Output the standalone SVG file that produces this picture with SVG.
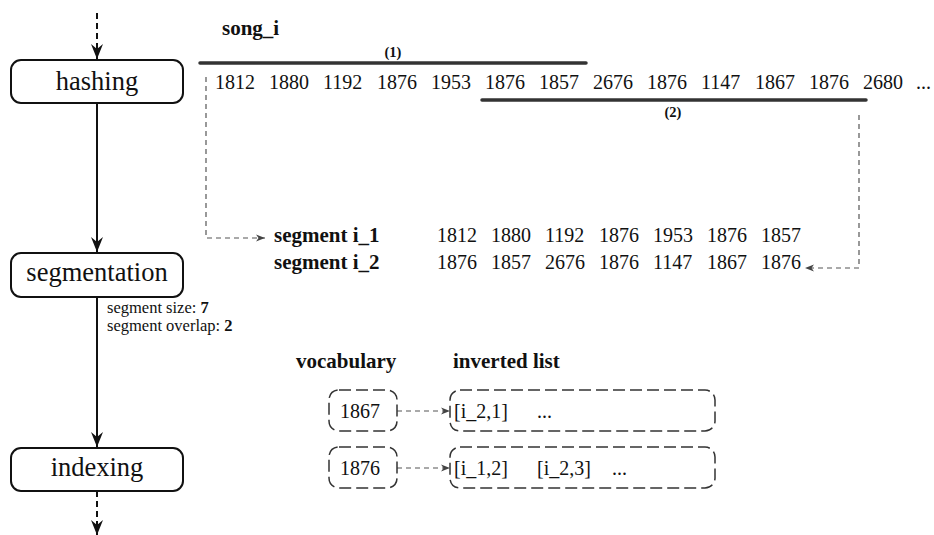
<svg xmlns="http://www.w3.org/2000/svg" width="934" height="535" viewBox="0 0 934 535">
<style>
text{font-family:"Liberation Serif","Times New Roman",serif;fill:#111}
.box{fill:#fff;stroke:#111;stroke-width:2}
.lbl{font-size:26.5px}
.num{font-size:20px}
.b{font-weight:bold;font-size:21px}
.small{font-size:16.5px}
.flow{stroke:#111;stroke-width:2;fill:none}
.dflow{stroke:#111;stroke-width:2;fill:none;stroke-dasharray:6,4}
.conn{stroke:#555;stroke-width:1.2;fill:none;stroke-dasharray:5,4}
.bar{stroke:#333;stroke-width:3.5;stroke-linecap:round}
.dbox{fill:#fff;stroke:#333;stroke-width:1.5;stroke-dasharray:12,5}
</style>
<defs>
<marker id="ah" markerUnits="userSpaceOnUse" markerWidth="16" markerHeight="14" viewBox="-15 -7 16 14" refX="0" refY="0" orient="auto">
<path d="M0,0 L-15,-6 L-10,0 L-15,6 Z" fill="#111"/>
</marker>
<marker id="sa" markerUnits="userSpaceOnUse" markerWidth="11" markerHeight="8" viewBox="-10 -4 11 8" refX="0" refY="0" orient="auto">
<path d="M0,0 L-9,-3.5 L-6.5,0 L-9,3.5 Z" fill="#444"/>
</marker>
</defs>

<g id="connectors">
<line class="dflow" x1="97" y1="13" x2="97" y2="59" marker-end="url(#ah)"/>
<line class="flow" x1="97" y1="103" x2="97" y2="252" marker-end="url(#ah)"/>
<line class="flow" x1="97" y1="297" x2="97" y2="447" marker-end="url(#ah)"/>
<line class="dflow" x1="97" y1="491" x2="97" y2="535" marker-end="url(#ah)"/>
<path class="conn" d="M206,77 V238 H265" marker-end="url(#sa)"/>
<path class="conn" d="M859,115 V268 H805" marker-end="url(#sa)"/>
<line class="conn" x1="397" y1="411" x2="450" y2="411" marker-end="url(#sa)"/>
<line class="conn" x1="397" y1="468" x2="450" y2="468" marker-end="url(#sa)"/>
</g>

<g id="hashing">
<rect class="box" x="11" y="60" width="172" height="43" rx="10"/>
<text class="lbl" x="97" y="90" text-anchor="middle">hashing</text>
</g>
<g id="segmentation">
<rect class="box" x="11" y="253" width="172" height="44" rx="10"/>
<text class="lbl" x="97" y="281" text-anchor="middle">segmentation</text>
<text class="small" x="107" y="313">segment size: <tspan font-weight="bold">7</tspan></text>
<text class="small" x="107" y="331">segment overlap: <tspan font-weight="bold">2</tspan></text>
</g>
<g id="indexing">
<rect class="box" x="11" y="448" width="172" height="43" rx="10"/>
<text class="lbl" x="97" y="476" text-anchor="middle">indexing</text>
</g>

<g id="song">
<text class="b" x="222" y="35">song_i</text>
<line class="bar" x1="200" y1="63" x2="586" y2="63"/>
<text x="393" y="57" text-anchor="middle" font-size="14.5" font-weight="bold">(1)</text>
<line class="bar" x1="482" y1="100" x2="866" y2="100"/>
<text x="673" y="117" text-anchor="middle" font-size="14.5" font-weight="bold">(2)</text>
<g class="num">
<text x="215" y="89">1812</text>
<text x="269" y="89">1880</text>
<text x="323" y="89">1192</text>
<text x="377" y="89">1876</text>
<text x="431" y="89">1953</text>
<text x="485" y="89">1876</text>
<text x="539" y="89">1857</text>
<text x="593" y="89">2676</text>
<text x="647" y="89">1876</text>
<text x="701" y="89">1147</text>
<text x="755" y="89">1867</text>
<text x="809" y="89">1876</text>
<text x="863" y="89">2680</text>
<text x="916" y="89">...</text>
</g>
</g>

<g id="segments">
<text class="b" x="274" y="242" font-size="21.5">segment i_1</text>
<text class="b" x="274" y="269" font-size="21.5">segment i_2</text>
<g class="num">
<text x="437" y="242">1812</text>
<text x="491" y="242">1880</text>
<text x="545" y="242">1192</text>
<text x="599" y="242">1876</text>
<text x="653" y="242">1953</text>
<text x="707" y="242">1876</text>
<text x="761" y="242">1857</text>
<text x="437" y="269">1876</text>
<text x="491" y="269">1857</text>
<text x="545" y="269">2676</text>
<text x="599" y="269">1876</text>
<text x="653" y="269">1147</text>
<text x="707" y="269">1867</text>
<text x="761" y="269">1876</text>
</g>
</g>

<g id="index">
<text class="b" x="296" y="368">vocabulary</text>
<text class="b" x="453" y="368">inverted list</text>
</g>
<g id="vocab-1867">
<rect class="dbox" x="329" y="390" width="68" height="41" rx="10"/>
<text class="num" x="340" y="418">1867</text>
</g>
<g id="list-1867">
<rect class="dbox" x="450" y="390" width="265" height="41" rx="10"/>
<text class="num" x="454" y="418">[i_2,1]</text>
<text class="num" x="537" y="418">...</text>
</g>
<g id="vocab-1876">
<rect class="dbox" x="329" y="447" width="68" height="41" rx="10"/>
<text class="num" x="340" y="475">1876</text>
</g>
<g id="list-1876">
<rect class="dbox" x="450" y="447" width="265" height="41" rx="10"/>
<text class="num" x="454" y="475">[i_1,2]</text>
<text class="num" x="537" y="475">[i_2,3]</text>
<text class="num" x="612" y="475">...</text>
</g>
</svg>
